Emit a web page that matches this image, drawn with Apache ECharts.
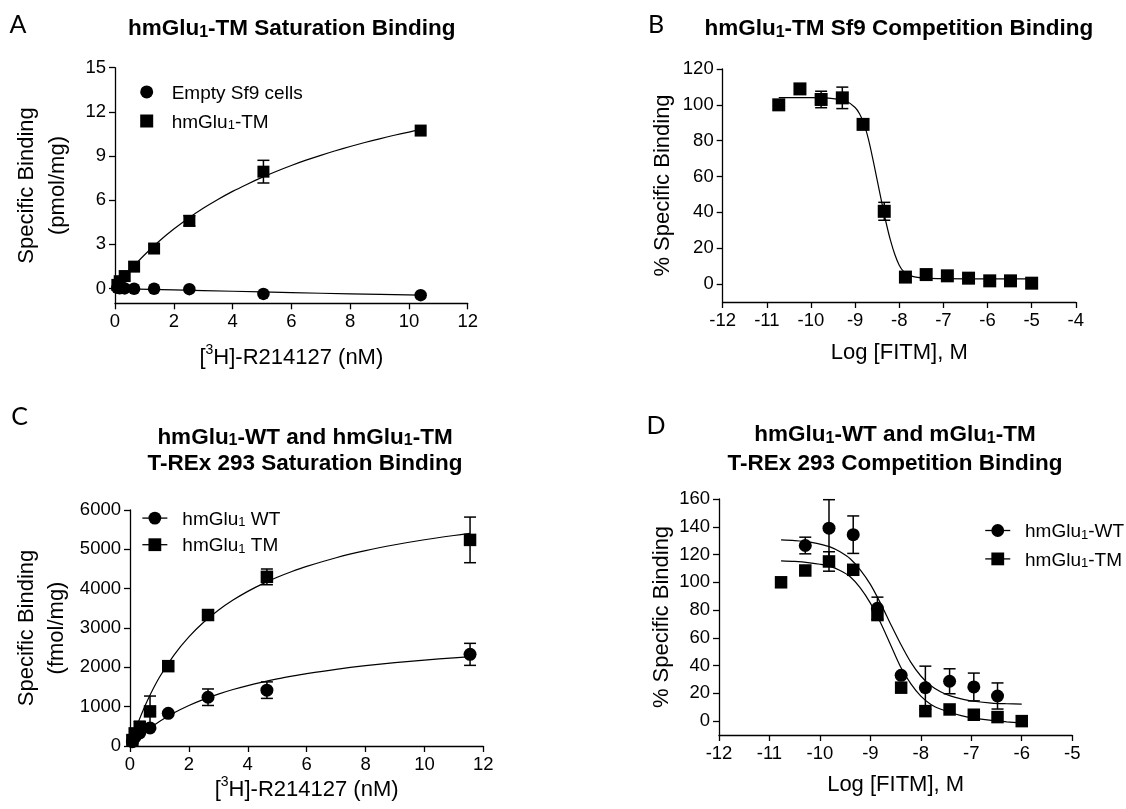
<!DOCTYPE html>
<html>
<head>
<meta charset="utf-8">
<title>hmGlu1 binding</title>
<script src="https://cdn.jsdelivr.net/npm/echarts@6/dist/echarts.min.js"></script>
<style>
  html, body { margin: 0; padding: 0; background: #fff; }
  #chart { width: 1126px; height: 809px; }
</style>
</head>
<body>
<div id="chart"></div>
<script>
// A - saturation binding in Sf9 membranes
const aConc = [0.08, 0.16, 0.33, 0.65, 1.33, 2.53, 5.05, 10.4];
const aEmpty = [0.05, 0.02, 0.01, -0.01, -0.01, -0.04, -0.36, -0.45];
const aTm = [0.25, 0.5, 0.85, 1.49, 2.72, 4.6, 7.94, 10.73];
const aTmErr = [0, 0, 0, 0, 0, 0.35, 0.77, 0];
// fitted curves
const aFitX = [0.08, 0.3, 0.6, 1, 1.5, 2, 2.5, 3, 3.5, 4, 4.5, 5, 5.5, 6, 6.5, 7, 7.5, 8, 8.5, 9, 9.5, 10, 10.4];
const aTmFit = [0.21, 0.75, 1.44, 2.28, 3.21, 4.04, 4.78, 5.45, 6.05, 6.6, 7.09, 7.55, 7.97, 8.36, 8.72, 9.05, 9.36, 9.65, 9.92, 10.17, 10.41, 10.63, 10.8];
const aEmptyFitX = [0.08, 2, 4, 6, 8, 10.4];
const aEmptyFit = [0, -0.09, -0.18, -0.27, -0.36, -0.45];
const aYTicks = [0, 3, 6, 9, 12, 15];

// B - competition binding in Sf9
const bLog = [-10.73, -10.25, -9.77, -9.29, -8.82, -8.34, -7.86, -7.39, -6.91, -6.43, -5.95, -5.48, -5.0];
const bTm = [100, 108.9, 103, 103.9, 89.1, 40.6, 3.9, 5.3, 4.6, 3.3, 1.8, 1.8, 0.5];
const bTmErr = [0, 0, 4.6, 6, 0, 5, 0, 0, 0, 0, 0, 0, 0];
const bFitX = [-10.73, -10.0, -9.5, -9.2, -9.0, -8.9, -8.8, -8.7, -8.6, -8.5, -8.4, -8.3, -8.2, -8.1, -8.0, -7.9, -7.7, -7.4, -7.0, -6.0, -5.0];
const bFitY = [104, 104, 103.5, 102, 98.5, 95, 89.5, 81, 70, 58, 46, 34.5, 24.5, 16.5, 10.5, 7, 4.3, 3.3, 3.0, 2.9, 2.9];
const bYTicks = [0, 20, 40, 60, 80, 100, 120];

// C - saturation binding in T-REx 293
const cConc = [0.08, 0.16, 0.33, 0.68, 1.3, 2.65, 4.65, 11.55];
const cWt = [110, 220, 330, 460, 830, 1240, 1420, 2330];
const cWtErr = [0, 0, 0, 0, 0, 210, 210, 280];
const cTm = [150, 320, 480, 880, 2030, 3330, 4300, 5240];
const cTmErr = [0, 0, 150, 390, 0, 0, 200, 580];
const cFitX = [0.08, 0.3, 0.6, 1, 1.5, 2, 2.5, 3, 3.5, 4, 4.5, 5, 5.5, 6, 7, 8, 9, 10, 11, 11.55];
const cWtFit = [61, 217, 405, 620, 843, 1029, 1186, 1320, 1436, 1537, 1626, 1706, 1776, 1840, 1949, 2041, 2118, 2184, 2241, 2270];
const cTmFit = [183, 640, 1169, 1747, 2319, 2774, 3145, 3452, 3710, 3931, 4122, 4289, 4436, 4566, 4787, 4967, 5116, 5243, 5351, 5404];
const cYTicks = [0, 1000, 2000, 3000, 4000, 5000, 6000];

// D - competition binding in T-REx 293
const dLog = [-10.77, -10.29, -9.82, -9.34, -8.86, -8.39, -7.91, -7.43, -6.95, -6.48, -6.0];
const dWt = [null, 126.5, 139, 134.3, 81.3, 33, 24.1, 28.7, 24.6, 18.1, null];
const dWtErr = [0, 6, 20.5, 13.5, 8, 0, 15.5, 9, 10, 9.4, 0];
const dTm = [100, 108.5, 115, 109, 76.4, 24.1, 7.2, 8.4, 4.6, 2.9, 0];
const dTmErr = [0, 0, 7, 0, 0, 0, 0, 0, 0, 0, 0];
const dFitX = [-10.77, -10.5, -10.2, -10.0, -9.8, -9.6, -9.4, -9.2, -9.0, -8.8, -8.6, -8.4, -8.2, -8.0, -7.8, -7.6, -7.4, -7.2, -7.0, -6.6, -6.3, -6.0];
const dWtFit = [130.5, 130, 129, 127.5, 125.5, 122, 117, 109, 98.5, 85, 70, 55.5, 42.5, 32.5, 25.5, 21, 18, 16, 14.5, 13, 12.5, 12.2];
const dTmFit = [115.5, 115, 114, 113, 111.5, 108.5, 104, 96, 85, 71, 55, 39, 27, 18, 12, 8.5, 6, 4, 2.5, 0.5, -0.5, -1.3];
const dYTicks = [0, 20, 40, 60, 80, 100, 120, 140, 160];

const FONT = 'Liberation Sans, Arial, sans-serif';
const BLACK = '#000';

const pairs = (xs, ys) => xs.map((x, i) => [x, ys[i]]).filter(p => p[1] !== null);
const errData = (xs, ys, es) => xs.map((x, i) => es[i] ? [x, ys[i] - es[i], ys[i] + es[i]] : null).filter(Boolean);

const titleRich = (lh) => ({
  b: { fontFamily: FONT, fontSize: 22.5, fontWeight: 'bold', color: BLACK, lineHeight: lh, verticalAlign: 'bottom' },
  s: { fontFamily: FONT, fontSize: 16, fontWeight: 'bold', color: BLACK, lineHeight: 16, verticalAlign: 'bottom' }
});
const nameRich = {
  m: { fontFamily: FONT, fontSize: 22, color: BLACK, lineHeight: 26, verticalAlign: 'bottom' },
  p: { fontFamily: FONT, fontSize: 14, color: BLACK, lineHeight: 16, verticalAlign: 'top' }
};
const legendRich = (gap) => ({
  g: { width: gap, lineHeight: 22, fontSize: 19 },
  m: { fontFamily: FONT, fontSize: 19, color: BLACK, lineHeight: 22, verticalAlign: 'bottom' },
  s: { fontFamily: FONT, fontSize: 13, color: BLACK, lineHeight: 13, verticalAlign: 'bottom' }
});
const legendLabels = {
  aEmpty: '{g| }{m|Empty Sf9 cells}',
  aTm: '{g| }{m|hmGlu}{s|1}{m|-TM}',
  cWt: '{g| }{m|hmGlu}{s|1}{m| WT}',
  cTm: '{g| }{m|hmGlu}{s|1}{m| TM}',
  dWt: '{g| }{m|hmGlu}{s|1}{m|-WT}',
  dTm: '{g| }{m|hmGlu}{s|1}{m|-TM}'
};

const axisLine = { onZero: false, lineStyle: { color: BLACK, width: 1.3 } };
const tickStyle = { color: BLACK, width: 1.3 };
const labelStyle = { color: BLACK, fontSize: 18.5, fontFamily: FONT, margin: 9, formatter: (v) => String(v) };

function xAxis(gi, min, max, interval, name, gap) {
  return {
    gridIndex: gi, type: 'value', min: min, max: max, interval: interval,
    axisLine: axisLine,
    axisTick: { length: 6, lineStyle: tickStyle },
    axisLabel: labelStyle,
    splitLine: { show: false },
    name: name, nameLocation: 'middle', nameGap: gap,
    nameTextStyle: { rich: nameRich }
  };
}

function yAxis(gi, min, max, ticks, name, gap, lh) {
  return {
    gridIndex: gi, type: 'value', min: min, max: max,
    axisLine: axisLine,
    axisTick: { length: 6, lineStyle: tickStyle, customValues: ticks },
    axisLabel: Object.assign({ customValues: ticks }, labelStyle),
    splitLine: { show: false },
    name: name, nameLocation: 'middle', nameGap: gap,
    nameTextStyle: { color: BLACK, fontSize: 22, fontFamily: FONT, lineHeight: lh }
  };
}

function errRender(params, api) {
  const x = api.value(0);
  const lo = api.coord([x, api.value(1)]);
  const hi = api.coord([x, api.value(2)]);
  const w = 6;
  const st = { stroke: BLACK, lineWidth: 1.5 };
  return {
    type: 'group',
    children: [
      { type: 'line', shape: { x1: lo[0], y1: lo[1], x2: hi[0], y2: hi[1] }, style: st },
      { type: 'line', shape: { x1: hi[0] - w, y1: hi[1], x2: hi[0] + w, y2: hi[1] }, style: st },
      { type: 'line', shape: { x1: lo[0] - w, y1: lo[1], x2: lo[0] + w, y2: lo[1] }, style: st }
    ]
  };
}

function errSeries(gi, xs, ys, es) {
  return {
    type: 'custom', xAxisIndex: gi, yAxisIndex: gi, renderItem: errRender,
    data: errData(xs, ys, es), encode: { x: 0, y: [1, 2] }, z: 1, silent: true
  };
}

function fitSeries(gi, xs, ys) {
  return {
    type: 'line', xAxisIndex: gi, yAxisIndex: gi, data: pairs(xs, ys),
    showSymbol: false, symbol: 'none', smooth: 0.3,
    lineStyle: { color: BLACK, width: 1.2 }, z: 2, silent: true
  };
}

function pointSeries(gi, name, kind, symbol, size, xs, ys) {
  const s = {
    type: kind, name: name, xAxisIndex: gi, yAxisIndex: gi, data: pairs(xs, ys),
    symbol: symbol, symbolSize: size, itemStyle: { color: BLACK, opacity: 1 }, z: 3
  };
  if (kind === 'line') {
    s.showSymbol = true;
    s.showAllSymbol = true;
    s.lineStyle = { opacity: 0 };
  }
  return s;
}

function panelTitle(text, x, y, lh) {
  return {
    text: text, left: x, top: y, textAlign: 'center', textVerticalAlign: 'middle', padding: 0,
    textStyle: { rich: titleRich(lh) }
  };
}

function panelLetter(text, x, y) {
  return {
    text: text, left: x, top: y, textAlign: 'center', textVerticalAlign: 'middle', padding: 0,
    textStyle: { fontFamily: 'Lato, Open Sans, sans-serif', fontSize: 25, fontWeight: 'normal', color: BLACK }
  };
}

function legend(names, left, top, w, h, gap, textGap) {
  return {
    data: names, orient: 'vertical', left: left, top: top, padding: 0,
    itemWidth: w, itemHeight: h, itemGap: gap,
    selectedMode: false,
    formatter: (n) => legendLabels[n],
    textStyle: { rich: legendRich(textGap - 5) },
    itemStyle: { color: BLACK },
    lineStyle: { color: BLACK, width: 1.3, opacity: 1 }
  };
}

const chart = echarts.init(document.getElementById('chart'));

chart.setOption({
  animation: false,
  backgroundColor: '#fff',
  title: [
    panelTitle('{b|hmGlu}{s|1}{b|-TM Saturation Binding}', 291.7, 27, 27),
    panelTitle('{b|hmGlu}{s|1}{b|-TM Sf9 Competition Binding}', 898.9, 27, 27),
    panelTitle('{b|hmGlu}{s|1}{b|-WT and hmGlu}{s|1}{b|-TM}\n{b|T-REx 293 Saturation Binding}', 305, 449, 26.7),
    panelTitle('{b|hmGlu}{s|1}{b|-WT and mGlu}{s|1}{b|-TM}\n{b|T-REx 293 Competition Binding}', 895, 446.5, 28.3),
    panelLetter('A', 18, 25),
    panelLetter('B', 656, 25),
    panelLetter('C', 19.7, 416.5),
    panelLetter('D', 656, 426)
  ],
  legend: [
    legend(['aEmpty', 'aTm'], 140.2, 82.4, 13, 13, 8.6, 18.5),
    legend(['cWt', 'cTm'], 141.7, 508.6, 25, 16, 6.1, 15),
    legend(['dWt', 'dTm'], 984.6, 521, 25, 16, 7.9, 14.8)
  ],
  grid: [
    { left: 115, top: 67.7, width: 352.7, height: 235.6 },
    { left: 722.7, top: 69, width: 353.1, height: 233 },
    { left: 130, top: 510, width: 353.3, height: 236 },
    { left: 719, top: 499, width: 353.2, height: 236 }
  ],
  xAxis: [
    xAxis(0, 0, 12, 2, '{m|[}{p|3}{m|H]-R214127 (nM)}', 40),
    xAxis(1, -12, -4, 1, '{m|Log [FITM], M}', 35.5),
    xAxis(2, 0, 12, 2, '{m|[}{p|3}{m|H]-R214127 (nM)}', 29.4),
    xAxis(3, -12, -5, 1, '{m|Log [FITM], M}', 34.5)
  ],
  yAxis: [
    yAxis(0, -1, 15, aYTicks, 'Specific Binding\n(pmol/mg)', 41, 31.6),
    yAxis(1, -10, 120, bYTicks, '% Specific Binding', 47, 26),
    yAxis(2, 0, 6000, cYTicks, 'Specific Binding\n(fmol/mg)', 58, 30),
    yAxis(3, -10, 160, dYTicks, '% Specific Binding', 40, 26)
  ],
  series: [
    // A
    errSeries(0, aConc, aTm, aTmErr),
    fitSeries(0, aFitX, aTmFit),
    fitSeries(0, aEmptyFitX, aEmptyFit),
    pointSeries(0, 'aEmpty', 'scatter', 'circle', 12.5, aConc, aEmpty),
    pointSeries(0, 'aTm', 'scatter', 'rect', 12, aConc, aTm),
    // B
    errSeries(1, bLog, bTm, bTmErr),
    fitSeries(1, bFitX, bFitY),
    pointSeries(1, 'bTm', 'scatter', 'rect', 13, bLog, bTm),
    // C
    errSeries(2, cConc, cWt, cWtErr),
    errSeries(2, cConc, cTm, cTmErr),
    fitSeries(2, cFitX, cWtFit),
    fitSeries(2, cFitX, cTmFit),
    pointSeries(2, 'cWt', 'line', 'circle', 13, cConc, cWt),
    pointSeries(2, 'cTm', 'line', 'rect', 12.5, cConc, cTm),
    // D
    errSeries(3, dLog, dWt, dWtErr),
    errSeries(3, dLog, dTm, dTmErr),
    fitSeries(3, dFitX, dWtFit),
    fitSeries(3, dFitX, dTmFit),
    pointSeries(3, 'dWt', 'line', 'circle', 13, dLog, dWt),
    pointSeries(3, 'dTm', 'line', 'rect', 12.5, dLog, dTm)
  ]
});

window.addEventListener('resize', () => chart.resize());
</script>
</body>
</html>
